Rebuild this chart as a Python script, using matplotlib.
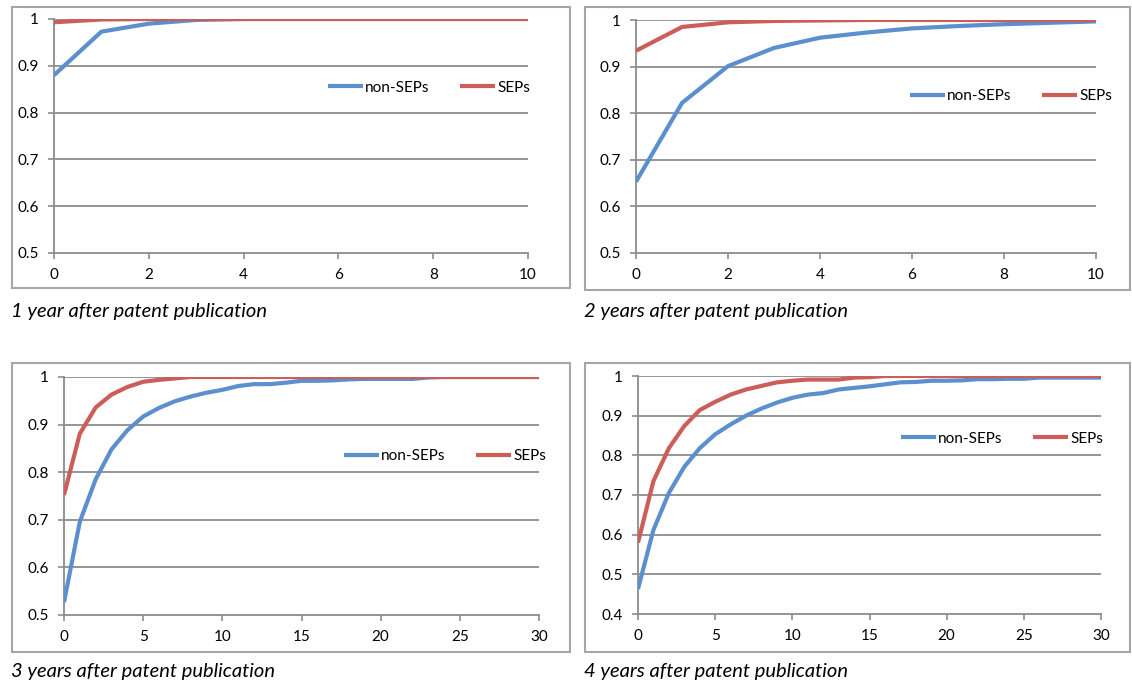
import matplotlib
matplotlib.use("Agg")
import matplotlib.pyplot as plt
from matplotlib.patches import Rectangle

# Andel patent (kumulativ) per år, fyra paneler

years_10 = list(range(0, 11))
years_30 = list(range(0, 31))

non_seps_1 = [0.880, 0.973, 0.990, 0.998, 1.0, 1.0, 1.0, 1.0, 1.0, 1.0, 1.0]
seps_1 = [0.993, 0.999, 1.0, 1.0, 1.0, 1.0, 1.0, 1.0, 1.0, 1.0, 1.0]

non_seps_2 = [0.653, 0.822, 0.901, 0.940, 0.962, 0.973, 0.982, 0.987, 0.991, 0.994, 0.997]
seps_2 = [0.934, 0.985, 0.995, 0.998, 0.999, 1.0, 1.0, 1.0, 1.0, 1.0, 1.0]

non_seps_3 = [0.527, 0.696, 0.785, 0.848, 0.888, 0.917, 0.935, 0.949, 0.959, 0.967,
              0.973, 0.981, 0.985, 0.985, 0.988, 0.992, 0.992, 0.993, 0.995, 0.996,
              0.996, 0.996, 0.996, 0.999, 1.0, 1.0, 1.0, 1.0, 1.0, 1.0, 1.0]
seps_3 = [0.752, 0.881, 0.936, 0.963, 0.979, 0.990, 0.994, 0.997, 1.0, 1.0,
          1.0, 1.0, 1.0, 1.0, 1.0, 1.0, 1.0, 1.0, 1.0, 1.0,
          1.0, 1.0, 1.0, 1.0, 1.0, 1.0, 1.0, 1.0, 1.0, 1.0, 1.0]

non_seps_4 = [0.463, 0.612, 0.705, 0.771, 0.818, 0.853, 0.878, 0.900, 0.918, 0.933,
              0.945, 0.953, 0.957, 0.966, 0.970, 0.974, 0.979, 0.984, 0.985, 0.988,
              0.988, 0.989, 0.992, 0.992, 0.993, 0.993, 0.996, 0.996, 0.996, 0.996, 0.996]
seps_4 = [0.580, 0.735, 0.818, 0.874, 0.914, 0.935, 0.953, 0.966, 0.975, 0.984,
          0.988, 0.991, 0.991, 0.991, 0.996, 0.997, 1.0, 1.0, 1.0, 1.0,
          1.0, 1.0, 1.0, 1.0, 1.0, 1.0, 1.0, 1.0, 1.0, 1.0, 1.0]

captions = ["1 year after patent publication", "2 years after patent publication",
            "3 years after patent publication", "4 years after patent publication"]

BLUE = "#5B8FCD"
RED = "#CD5D58"
GRID = "#8C8C8C"
FONT = "Lato"

W, H = 1132, 686
fig = plt.figure(figsize=(W / 100, H / 100), dpi=100)


def px_axes(x0, x1, ytop, ybot):
    # pixelkoordinater -> figurkoordinater
    return fig.add_axes([x0 / W, 1 - ybot / H, (x1 - x0) / W, (ybot - ytop) / H])


def box(x0, x1, ytop, ybot):
    fig.patches.append(Rectangle((x0 / W, 1 - ybot / H), (x1 - x0) / W, (ybot - ytop) / H,
                                 transform=fig.transFigure, fill=False,
                                 edgecolor="#A6A6A6", linewidth=1.5))


panels = [
    # x, blå, röd, xmax, xticks, ymin, axes-pixlar, ruta, legend-pos, rubrik-pos
    (years_10, non_seps_1, seps_1, 10, range(0, 11, 2), 0.5,
     (54, 528, 19, 253), (12, 570, 7, 288), (0.561, 0.707), (11, 311)),
    (years_10, non_seps_2, seps_2, 10, range(0, 11, 2), 0.5,
     (636, 1096, 20, 253), (585, 1130, 7, 290), (0.578, 0.672), (584, 311)),
    (years_30, non_seps_3, seps_3, 30, range(0, 31, 5), 0.5,
     (64, 539, 377, 615), (12, 570, 363, 652), (0.573, 0.668), (11, 672)),
    (years_30, non_seps_4, seps_4, 30, range(0, 31, 5), 0.4,
     (638, 1101, 376, 614), (585, 1130, 363, 652), (0.551, 0.737), (584, 671)),
]

for i, p in enumerate(panels):
    x, blue, red, xmax, xt, ymin, ax_px, box_px, leg, cap = p
    box(*box_px)
    ax = px_axes(*ax_px)

    yt = [round(ymin + 0.1 * k, 1) for k in range(int(round((1 - ymin) * 10)) + 1)]
    for v in yt[1:]:
        ax.axhline(v, color=GRID, linewidth=1.3, zorder=1)

    ax.plot(x, blue, color=BLUE, linewidth=3.0, label="non-SEPs", zorder=3,
            solid_capstyle="butt")
    ax.plot(x, red, color=RED, linewidth=3.0, label="SEPs", zorder=4,
            solid_capstyle="butt")

    ax.set_xlim(0, xmax)
    ax.set_ylim(ymin, 1)
    ax.set_xticks(list(xt))
    ax.set_yticks(yt)
    ax.set_yticklabels(["1" if v == 1 else f"{v:g}" for v in yt])

    for s in ["top", "right"]:
        ax.spines[s].set_visible(False)
    for s in ["left", "bottom"]:
        ax.spines[s].set_color(GRID)
        ax.spines[s].set_linewidth(1.3)
    ax.tick_params(direction="out", length=4, width=1.2, color=GRID,
                   labelsize=11, pad=7)
    for lab in ax.get_xticklabels() + ax.get_yticklabels():
        lab.set_fontfamily(FONT)
    ax.set_facecolor("none")

    ax.legend(loc="center left", bbox_to_anchor=leg, ncol=2, frameon=False,
              borderpad=0, handlelength=2.3, handletextpad=0.15,
              columnspacing=2.0, prop={"family": FONT, "size": 11})

    fig.text(cap[0] / W, 1 - cap[1] / H, captions[i], fontsize=14.5,
             style="italic", family=FONT, ha="left", va="center")

fig.savefig("out.png", dpi=100)
